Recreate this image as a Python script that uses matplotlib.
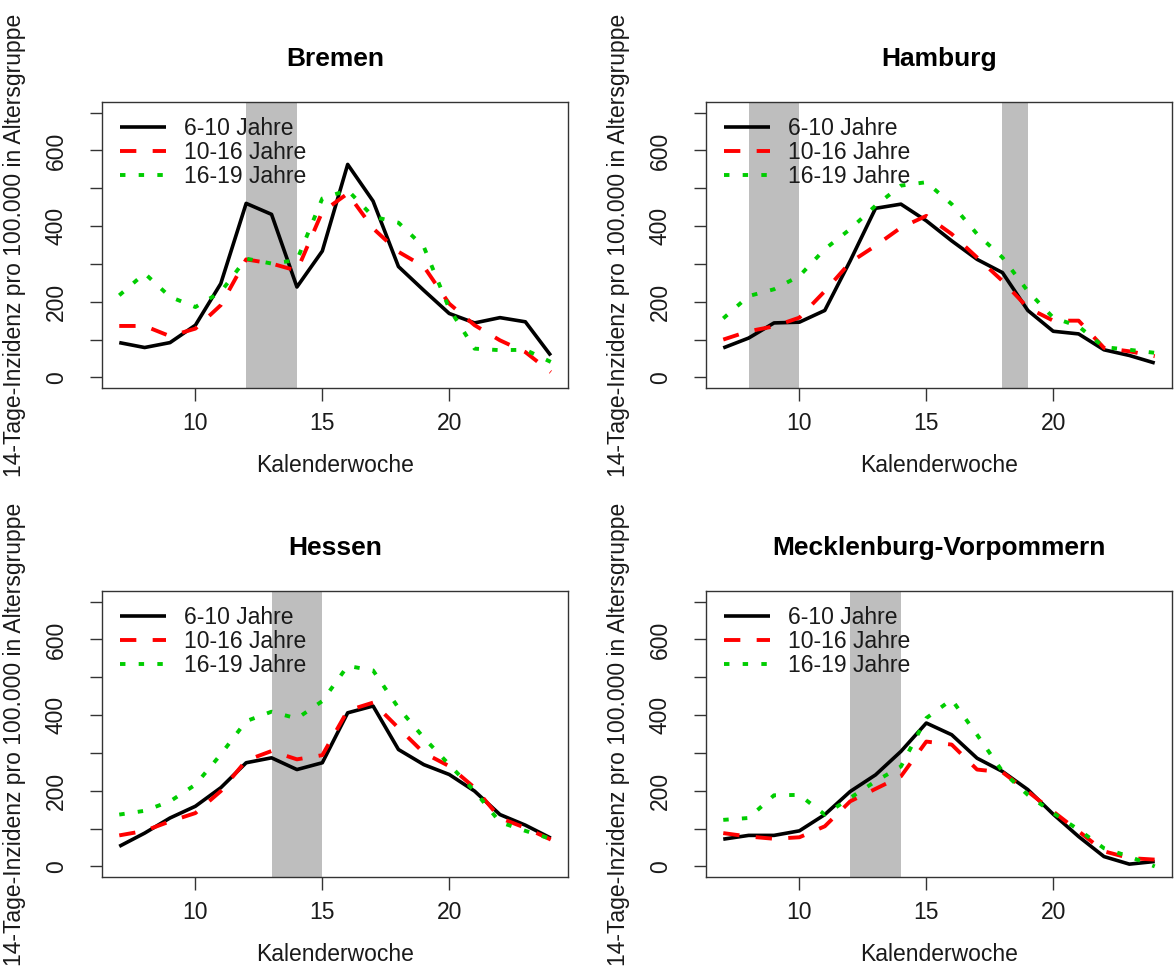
import matplotlib.pyplot as plt
from matplotlib.ticker import FixedLocator

plt.rcParams["font.family"] = ["Liberation Sans", "DejaVu Sans"]

weeks = list(range(7, 25))
age_groups = ["6-10 Jahre", "10-16 Jahre", "16-19 Jahre"]

# 14-day incidence per 100,000 by calendar week
bremen_6_10 = [92, 79, 92, 138, 248, 460, 431, 239, 334, 563, 466, 293, 230, 169, 144, 158, 147, 58]
bremen_10_16 = [136, 136, 109, 129, 191, 312, 301, 282, 438, 486, 394, 332, 293, 195, 138, 98, 67, 14]
bremen_16_19 = [217, 275, 213, 186, 226, 314, 301, 310, 473, 495, 425, 409, 345, 182, 76, 72, 73, 41]

hamburg_6_10 = [78, 104, 144, 146, 177, 308, 447, 458, 414, 361, 312, 277, 177, 122, 115, 73, 58, 38]
hamburg_10_16 = [100, 122, 135, 158, 228, 304, 348, 396, 427, 379, 317, 255, 184, 150, 150, 78, 69, 56]
hamburg_16_19 = [156, 215, 233, 268, 339, 392, 454, 507, 516, 458, 379, 317, 228, 158, 135, 80, 73, 65]

hessen_6_10 = [53, 88, 128, 159, 208, 274, 287, 256, 274, 406, 424, 309, 269, 243, 199, 137, 109, 75]
hessen_10_16 = [82, 94, 119, 141, 199, 280, 305, 283, 294, 412, 433, 366, 300, 265, 208, 128, 102, 71]
hessen_16_19 = [137, 147, 172, 216, 296, 384, 409, 391, 437, 530, 518, 419, 340, 269, 199, 117, 94, 73]

mv_6_10 = [72, 82, 82, 94, 137, 198, 242, 304, 379, 348, 286, 251, 203, 138, 79, 26, 6, 13]
mv_10_16 = [88, 79, 73, 77, 106, 172, 205, 238, 330, 322, 256, 249, 198, 145, 93, 40, 22, 18]
mv_16_19 = [123, 128, 188, 189, 137, 181, 225, 264, 392, 441, 348, 251, 189, 141, 97, 48, 26, 0]

# holiday weeks shaded per state
bremen_holidays = [(12, 14)]
hamburg_holidays = [(8, 10), (18, 19)]
hessen_holidays = [(13, 15)]
mv_holidays = [(12, 14)]

panels = [
    ("Bremen", [bremen_6_10, bremen_10_16, bremen_16_19], bremen_holidays),
    ("Hamburg", [hamburg_6_10, hamburg_10_16, hamburg_16_19], hamburg_holidays),
    ("Hessen", [hessen_6_10, hessen_10_16, hessen_16_19], hessen_holidays),
    ("Mecklenburg-Vorpommern", [mv_6_10, mv_10_16, mv_16_19], mv_holidays),
]

W, H = 1174, 972
fig = plt.figure(figsize=(W / 100, H / 100), dpi=100)

# axes boxes in pixels: left, top, width, height
boxes = [(102, 102, 466, 286), (706, 102, 466, 286), (102, 591, 466, 286), (706, 591, 466, 286)]

line_styles = [
    dict(color="black", lw=2.6, ls="-"),
    dict(color="#FF0000", lw=2.8, dashes=(4.2, 4.2)),
    dict(color="#00CD00", lw=2.8, dashes=(1.4, 3.4)),
]

FS = 16.5

for (title, series, holidays), (l, t, w, h) in zip(panels, boxes):
    ax = fig.add_axes([l / W, 1 - (t + h) / H, w / W, h / H])
    for start, end in holidays:
        ax.axvspan(start, end, color="#BEBEBE", lw=0, zorder=1)
    for values, label, style in zip(series, age_groups, line_styles):
        ax.plot(weeks, values, label=label, zorder=3, solid_capstyle="butt",
                dash_capstyle="butt", **style)

    ax.set_xlim(6.32, 24.68)
    ax.set_ylim(-28, 728)
    ax.set_xticks([10, 15, 20])
    ax.set_yticks([0, 200, 400, 600])
    ax.yaxis.set_minor_locator(FixedLocator([100, 300, 500, 700]))
    ax.tick_params(axis="both", which="both", length=9, width=1, color="#333333",
                   labelsize=FS, labelcolor="#1a1a1a")
    ax.tick_params(axis="x", pad=8)
    ax.tick_params(axis="y", pad=15.5)
    for lab in ax.get_yticklabels():
        lab.set_rotation(90)
        lab.set_va("center")
    for sp in ax.spines.values():
        sp.set_color("#333333")
        sp.set_linewidth(1)

    ax.text(0.5, 1 + 43 / h, title, transform=ax.transAxes, ha="center", va="center",
            fontsize=19, fontweight="bold")
    ax.text(0.5, -77 / h, "Kalenderwoche", transform=ax.transAxes, ha="center",
            va="center", fontsize=FS, color="#1a1a1a")
    ax.text(-87 / w, 0.5, "14-Tage-Inzidenz pro 100.000 in Altersgruppe",
            transform=ax.transAxes, ha="center", va="center", rotation=90,
            fontsize=FS, color="#1a1a1a")

    leg = ax.legend(loc="upper left", bbox_to_anchor=(18 / w, 1 - 15 / h), frameon=False,
                    borderpad=0, borderaxespad=0, handlelength=2.0, handletextpad=0.8,
                    labelspacing=0.05, fontsize=FS)
    leg.set_zorder(5)
    for txt in leg.get_texts():
        txt.set_color("#1a1a1a")

fig.savefig("out.png", dpi=100)
